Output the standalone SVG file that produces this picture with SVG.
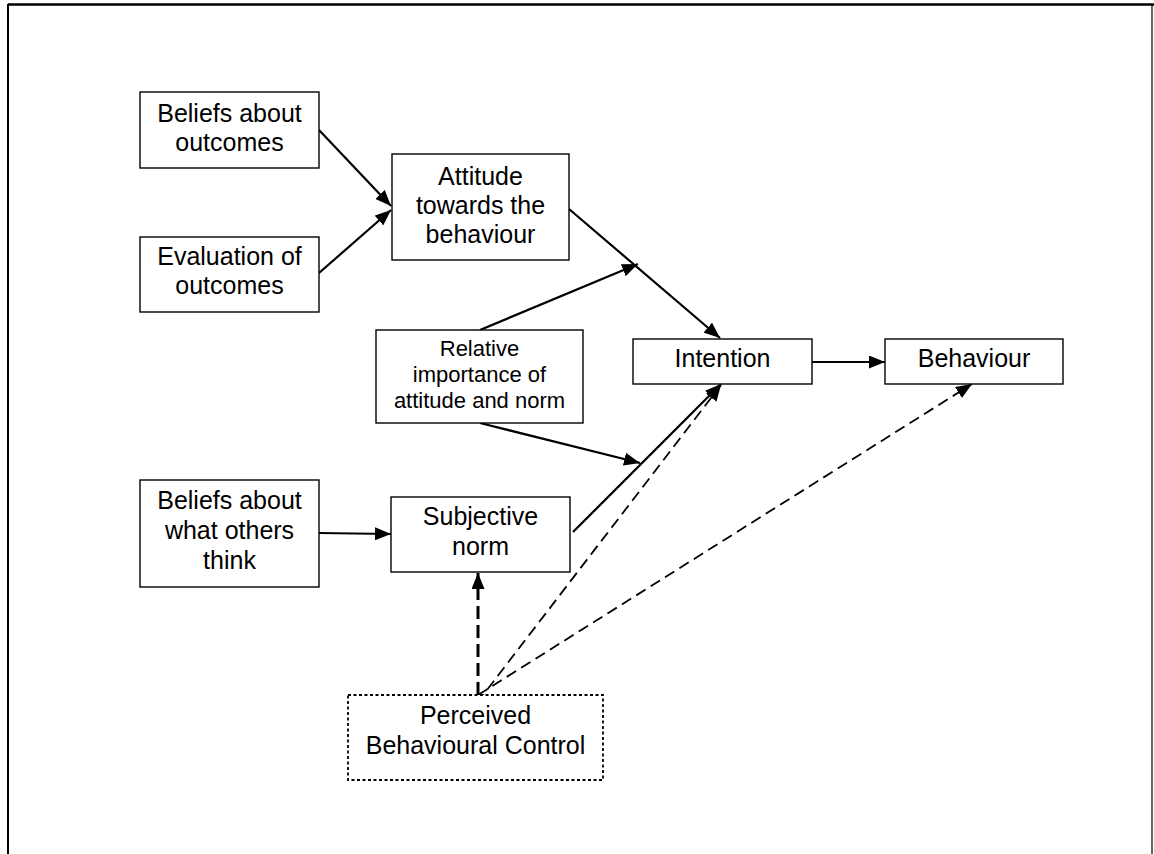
<svg xmlns="http://www.w3.org/2000/svg" width="1154" height="854" viewBox="0 0 1154 854">
  <style>
    .box { fill: #fff; stroke: #000; stroke-width: 1.4; }
    .pbc { fill: #fff; stroke: #000; stroke-width: 1.8; stroke-dasharray: 3 2.5; }
    .lbl { font-family: "Liberation Sans", Arial, sans-serif; font-size: 25px; fill: #000; text-anchor: middle; }
    .lbl-s { font-family: "Liberation Sans", Arial, sans-serif; font-size: 22px; fill: #000; text-anchor: middle; }
    .link { fill: none; stroke: #000; stroke-width: 2.2; }
    .dash { fill: none; stroke: #000; stroke-width: 1.8; stroke-dasharray: 11 6; }
    .dash-bold { fill: none; stroke: #000; stroke-width: 3; stroke-dasharray: 13 6; }
  </style>
  <defs>
    <marker id="arrow" viewBox="0 0 16 13" refX="16" refY="6.5" markerWidth="16" markerHeight="13" markerUnits="userSpaceOnUse" orient="auto">
      <path d="M0,0 L16,6.5 L0,13 Z" fill="#000"/>
    </marker>
  </defs>

  <!-- page frame -->
  <g id="frame">
    <line x1="8" y1="4.5" x2="1154" y2="4.5" stroke="#000" stroke-width="2.5"/>
    <line x1="8" y1="4" x2="8" y2="854" stroke="#000" stroke-width="2"/>
    <line x1="1152" y1="4" x2="1152" y2="854" stroke="#000" stroke-width="1.2"/>
  </g>

  <!-- connectors -->
  <g id="connectors">
    <line class="link" x1="319" y1="130" x2="391" y2="206" marker-end="url(#arrow)"/>
    <line class="link" x1="319" y1="273" x2="391" y2="210" marker-end="url(#arrow)"/>
    <line class="link" x1="569" y1="209" x2="720" y2="338" marker-end="url(#arrow)"/>
    <line class="link" x1="480" y1="330" x2="638" y2="264" marker-end="url(#arrow)"/>
    <line class="link" x1="480" y1="423" x2="640" y2="463" marker-end="url(#arrow)"/>
    <line class="link" x1="812" y1="362" x2="885" y2="362" marker-end="url(#arrow)"/>
    <line class="link" x1="319" y1="533" x2="391" y2="534" marker-end="url(#arrow)"/>
    <line class="link" x1="573" y1="532" x2="721" y2="384" marker-end="url(#arrow)"/>
    <line class="dash" x1="477" y1="703" x2="721" y2="385" marker-end="url(#arrow)"/>
    <line class="dash" x1="478" y1="695" x2="972" y2="384" marker-end="url(#arrow)"/>
    <line class="dash-bold" x1="478" y1="695" x2="478" y2="573" marker-end="url(#arrow)"/>
  </g>

  <!-- nodes -->
  <g id="beliefs-outcomes">
    <rect class="box" x="140" y="92" width="179" height="76"/>
    <text class="lbl" x="229.5" y="122">Beliefs about</text>
    <text class="lbl" x="229.5" y="151">outcomes</text>
  </g>
  <g id="evaluation-outcomes">
    <rect class="box" x="140" y="237" width="179" height="75"/>
    <text class="lbl" x="229.5" y="265">Evaluation of</text>
    <text class="lbl" x="229.5" y="294">outcomes</text>
  </g>
  <g id="attitude">
    <rect class="box" x="392" y="154" width="177" height="106"/>
    <text class="lbl" x="480.5" y="185">Attitude</text>
    <text class="lbl" x="480.5" y="214">towards the</text>
    <text class="lbl" x="480.5" y="243">behaviour</text>
  </g>
  <g id="relative-importance">
    <rect class="box" x="376" y="330" width="207" height="93"/>
    <text class="lbl-s" x="479.5" y="356">Relative</text>
    <text class="lbl-s" x="479.5" y="382">importance of</text>
    <text class="lbl-s" x="479.5" y="408">attitude and norm</text>
  </g>
  <g id="intention">
    <rect class="box" x="633" y="339" width="179" height="45"/>
    <text class="lbl" x="722.5" y="367">Intention</text>
  </g>
  <g id="behaviour">
    <rect class="box" x="885" y="339" width="178" height="45"/>
    <text class="lbl" x="974" y="367">Behaviour</text>
  </g>
  <g id="beliefs-others">
    <rect class="box" x="140" y="480" width="179" height="107"/>
    <text class="lbl" x="229.5" y="509">Beliefs about</text>
    <text class="lbl" x="229.5" y="539">what others</text>
    <text class="lbl" x="229.5" y="569">think</text>
  </g>
  <g id="subjective-norm">
    <rect class="box" x="391" y="497" width="179" height="75"/>
    <text class="lbl" x="480.5" y="525">Subjective</text>
    <text class="lbl" x="480.5" y="555">norm</text>
  </g>
  <g id="perceived-control">
    <rect class="pbc" x="348" y="695" width="255" height="85"/>
    <text class="lbl" x="475.5" y="724">Perceived</text>
    <text class="lbl" x="475.5" y="754">Behavioural Control</text>
  </g>
</svg>
